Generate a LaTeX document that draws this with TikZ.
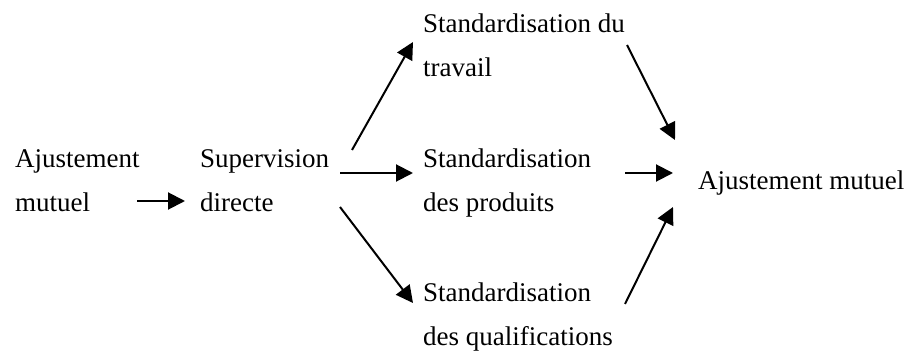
\documentclass[tikz,border=0pt]{standalone}
\usepackage{fontspec}
\setmainfont{Liberation Serif}
\usetikzlibrary{arrows.meta,calc}
\tikzset{
  lbl/.style={anchor=base west, inner sep=0pt, align=left,
    font=\fontsize{27}{44}\selectfont},
  arr/.style={line width=2pt, -{Triangle[length=17pt,width=17pt]}}
}
\begin{document}
\begin{tikzpicture}[x=1pt,y=-1pt]
\path[use as bounding box] (0,0) rectangle (905,358);
\node[lbl] (am)  at (15,212)  {Ajustement\\mutuel};
\node[lbl] (sd)  at (200,212) {Supervision\\directe};
\node[lbl] (st)  at (423,77)  {Standardisation du\\travail};
\node[lbl] (sp)  at (423,212) {Standardisation\\des produits};
\node[lbl] (sq)  at (423,345) {Standardisation\\des qualifications};
\node[lbl] (am2) at (698,190) {Ajustement mutuel};
\draw[arr] ($(am.base west)+(122,-11)$) -- ($(sd.base west)+(-15,-11)$);
\draw[arr] ($(sd.base west)+(152,-62)$) -- ($(st.base west)+(-10,-35)$);
\draw[arr] ($(sd.base west)+(140,-39)$) -- ($(sp.base west)+(-10,-39)$);
\draw[arr] ($(sd.base west)+(140,-5)$) -- ($(sq.base west)+(-10,-42)$);
\draw[arr] ($(st.base west)+(204,-32)$) -- ($(am2.base west)+(-23,-50)$);
\draw[arr] ($(sp.base west)+(202,-39)$) -- ($(am2.base west)+(-25,-17)$);
\draw[arr] ($(sq.base west)+(202,-41)$) -- ($(am2.base west)+(-25,17)$);
\end{tikzpicture}
\end{document}
